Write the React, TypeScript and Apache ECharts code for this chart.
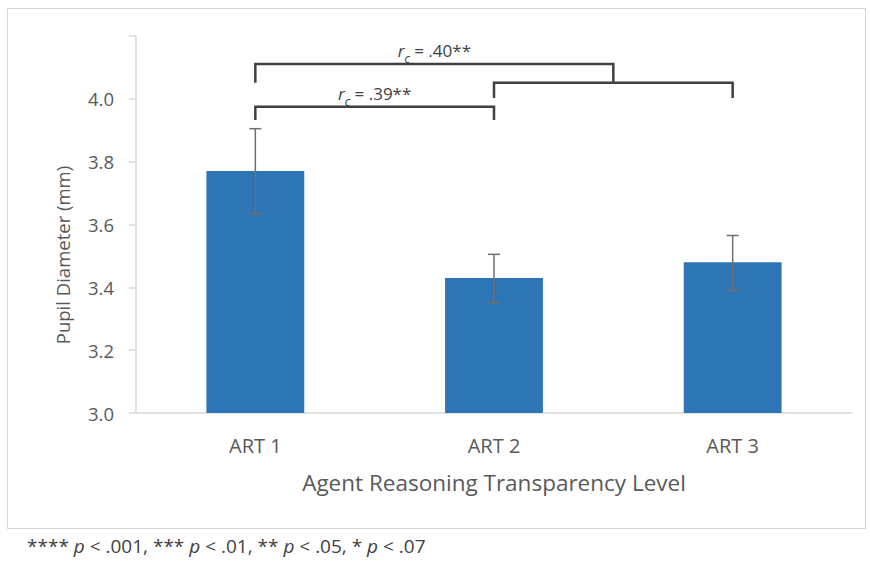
import React, { useEffect, useRef } from 'react';
import * as echarts from 'echarts';

const categories = ['ART 1', 'ART 2', 'ART 3'];
const meanPupil = [3.77, 3.43, 3.48];
const errLow = [3.635, 3.35, 3.39];
const errHigh = [3.905, 3.505, 3.565];

const yMin = 3.0;
const yMax = 4.2;
const yInterval = 0.2;
const hiddenTick = 4.2;

// significance brackets: left/right category positions (1.5 = middle of ART2–ART3 bracket)
const bracketLeft = [0, 1, 0];
const bracketRight = [1, 2, 1.5];
const bracketTop = [3.975, 4.051, 4.111];
const bracketBottom = [3.933, 4.003, 4.051];
const bracketLabels = ['.39**', '', '.40**'];

const yAxisName = 'Pupil Diameter (mm)';
const xAxisName = 'Agent Reasoning Transparency Level';

const FONT = '"Open Sans", "Noto Sans", sans-serif';
const TEXT = '#595959';

export default function App() {
  const ref = useRef<HTMLDivElement>(null);
  useEffect(() => {
    if (!ref.current) return;
    const chart = echarts.init(ref.current, undefined, { renderer: 'svg' });
    chart.setOption({
      animation: false,
      backgroundColor: '#ffffff',
      grid: { left: 136, right: 18, top: 36, bottom: 148, containLabel: false },
      xAxis: {
        type: 'category',
        data: categories,
        axisLine: { lineStyle: { color: '#d9d9d9', width: 1.5 } },
        axisTick: { show: false },
        axisLabel: { color: TEXT, fontSize: 20, fontFamily: FONT, margin: 22 },
        name: xAxisName,
        nameLocation: 'middle',
        nameGap: 58,
        nameTextStyle: { color: TEXT, fontSize: 22.5, fontFamily: FONT },
      },
      yAxis: {
        type: 'value',
        min: yMin,
        max: yMax,
        interval: yInterval,
        axisLine: { show: true, lineStyle: { color: '#d9d9d9', width: 1.5 } },
        axisTick: { show: true, length: 7, lineStyle: { color: '#d9d9d9', width: 1.5 } },
        splitLine: { show: false },
        axisLabel: {
          color: TEXT,
          fontSize: 18.5,
          fontFamily: FONT,
          margin: 22,
          formatter: (v: number) => (Math.abs(v - hiddenTick) < 1e-6 ? '' : v.toFixed(1)),
        },
      },
      series: [
        {
          type: 'bar',
          data: meanPupil,
          barWidth: '41%',
          itemStyle: { color: '#2E75B6' },
          z: 2,
        },
        {
          type: 'custom',
          data: categories.map((_, i) => [i, errLow[i], errHigh[i]]),
          z: 3,
          renderItem: (params: any, api: any) => {
            const x = api.value(0);
            const lo = api.coord([x, api.value(1)]);
            const hi = api.coord([x, api.value(2)]);
            const cap = 6;
            const st = { stroke: '#6f6f6f', lineWidth: 1.5 };
            return {
              type: 'group',
              children: [
                { type: 'line', shape: { x1: lo[0], y1: lo[1], x2: hi[0], y2: hi[1] }, style: st },
                { type: 'line', shape: { x1: hi[0] - cap, y1: hi[1], x2: hi[0] + cap, y2: hi[1] }, style: st },
                { type: 'line', shape: { x1: lo[0] - cap, y1: lo[1], x2: lo[0] + cap, y2: lo[1] }, style: st },
              ],
            };
          },
        },
        {
          type: 'custom',
          data: bracketTop.map((t, i) => [bracketLeft[i], t]),
          z: 4,
          clip: false,
          renderItem: (params: any, api: any) => {
            const i = params.dataIndex;
            const xAt = (c: number, v: number) => {
              const l = Math.floor(c);
              const h = Math.ceil(c);
              const a = api.coord([l, v]);
              const b = api.coord([h, v]);
              return [a[0] + (b[0] - a[0]) * (c - l), a[1]];
            };
            const pl = xAt(bracketLeft[i], bracketTop[i]);
            const pr = xAt(bracketRight[i], bracketTop[i]);
            const yb = api.coord([0, bracketBottom[i]])[1];
            const children: any[] = [
              {
                type: 'polyline',
                shape: { points: [[pl[0], yb], [pl[0], pl[1]], [pr[0], pr[1]], [pr[0], yb]] },
                style: { stroke: '#404040', lineWidth: 2.5, fill: 'none' },
              },
            ];
            if (bracketLabels[i]) {
              children.push({
                type: 'text',
                x: (pl[0] + pr[0]) / 2,
                y: pl[1] + 3,
                style: {
                  text: '{r|r}{s|c}{n| = ' + bracketLabels[i] + '}',
                  align: 'center',
                  verticalAlign: 'bottom',
                  fill: '#404040',
                  fontFamily: FONT,
                  fontSize: 17,
                  rich: {
                    r: { fontSize: 17, lineHeight: 20, fontStyle: 'italic', fontFamily: FONT, fill: '#404040', verticalAlign: 'bottom', padding: [0, 0, 8, 0] },
                    s: { fontSize: 12, lineHeight: 20, fontStyle: 'italic', fontFamily: FONT, fill: '#404040', verticalAlign: 'bottom', padding: [0, 0, 2, 0] },
                    n: { fontSize: 17, lineHeight: 20, fontFamily: FONT, fill: '#404040', verticalAlign: 'bottom', padding: [0, 0, 8, 0] },
                  },
                },
              });
            }
            return { type: 'group', children };
          },
        },
      ],
      graphic: [
        {
          type: 'rect',
          shape: { x: 7.5, y: 8.5, width: 858, height: 520 },
          style: { fill: 'none', stroke: '#d4d4d4', lineWidth: 1 },
          silent: true,
          z: -1,
        },
        {
          type: 'text',
          x: 62,
          y: 255,
          rotation: Math.PI / 2,
          style: {
            text: yAxisName,
            align: 'center',
            verticalAlign: 'middle',
            fill: TEXT,
            fontSize: 18.5,
            fontFamily: FONT,
          },
        },
        {
          type: 'text',
          x: 27,
          y: 546,
          style: {
            text: '{a|**** }{i|p}{a| < .001, *** }{i|p}{a| < .01, ** }{i|p}{a| < .05, * }{i|p}{a| < .07}',
            align: 'left',
            verticalAlign: 'middle',
            fill: '#404040',
            fontSize: 19,
            fontFamily: FONT,
            rich: {
              a: { fontSize: 19, fontFamily: FONT, fill: '#404040' },
              i: { fontSize: 19, fontFamily: FONT, fontStyle: 'italic', fill: '#404040' },
            },
          },
        },
      ],
    });
    return () => chart.dispose();
  }, []);
  return (
    <div
      ref={ref}
      style={{ position: 'fixed', left: 0, top: 0, width: 870, height: 561, background: '#fff' }}
    />
  );
}
